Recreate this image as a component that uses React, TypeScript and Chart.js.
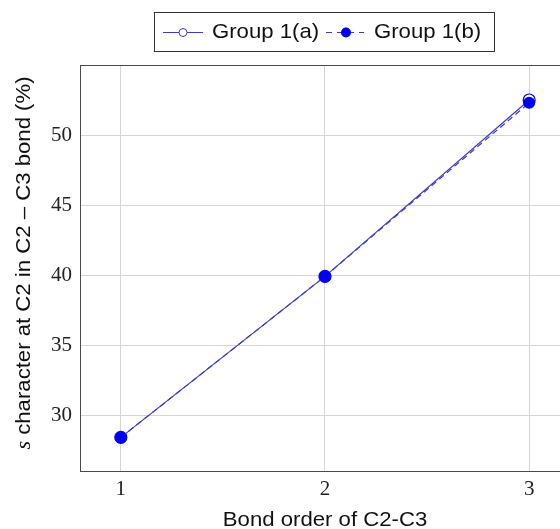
import React, { useEffect, useRef } from "react";
import { Chart, registerables } from "chart.js";

Chart.register(...registerables);

const bondOrders = [1, 2, 3];
const group1a = [28.4, 39.9, 52.5];
const group1b = [28.4, 39.9, 52.3];
const xTicks = [1, 2, 3];
const yTicks = [30, 35, 40, 45, 50];
const seriesLabels = ["Group 1(a)", "Group 1(b)"];
const xTitle = "Bond order of C2-C3";
const yTitleItalic = "s";
const yTitleRest = " character at C2 in C2 \u2013 C3 bond (%)";

const LINE = "#3b3bc4";
const MARK = "#0000ee";
const SANS = "Arial, 'Liberation Sans', Helvetica, sans-serif";
const SERIF = "'Liberation Serif', 'DejaVu Serif', serif";
const FS = 21;
const SX = 1.055;

function stretchedText(ctx: any, text: string, x: number, y: number, align: string) {
  const w = ctx.measureText(text).width * SX;
  let left = x;
  if (align === "center") left = x - w / 2;
  ctx.save();
  ctx.translate(left, y);
  ctx.scale(SX, 1);
  ctx.textAlign = "left";
  ctx.fillText(text, 0, 0);
  ctx.restore();
}

const framePlugin = {
  id: "frame",
  afterDraw(chart: any) {
    const { ctx, chartArea } = chart;
    ctx.save();
    ctx.strokeStyle = "#4a4a4a";
    ctx.lineWidth = 1;
    ctx.strokeRect(
      Math.round(chartArea.left) + 0.5,
      Math.round(chartArea.top) + 0.5,
      Math.round(chartArea.right - chartArea.left),
      Math.round(chartArea.bottom - chartArea.top)
    );

    // x-axis title
    ctx.fillStyle = "#111";
    ctx.textBaseline = "middle";
    ctx.font = `${FS}px ${SANS}`;
    stretchedText(ctx, xTitle, 325, 520, "center");

    // y-axis title
    ctx.save();
    ctx.translate(24, 263);
    ctx.rotate(-Math.PI / 2);
    ctx.scale(SX, 1);
    ctx.fillStyle = "#111";
    ctx.textBaseline = "middle";
    ctx.font = `italic ${FS}px ${SERIF}`;
    const w1 = ctx.measureText(yTitleItalic).width;
    ctx.font = `${FS}px ${SANS}`;
    const w2 = ctx.measureText(yTitleRest).width;
    const x0 = -(w1 + w2) / 2;
    ctx.textAlign = "left";
    ctx.font = `italic ${FS}px ${SERIF}`;
    ctx.fillText(yTitleItalic, x0, 0);
    ctx.font = `${FS}px ${SANS}`;
    ctx.fillText(yTitleRest, x0 + w1, 0);
    ctx.restore();
    ctx.restore();

    // legend
    ctx.save();
    ctx.strokeStyle = "#333";
    ctx.lineWidth = 1;
    ctx.fillStyle = "#fff";
    ctx.fillRect(154.5, 12.5, 340, 39);
    ctx.strokeRect(154.5, 12.5, 340, 39);
    const cy = 32;
    // entry 1
    ctx.strokeStyle = LINE;
    ctx.beginPath();
    ctx.moveTo(163, cy + 0.5);
    ctx.lineTo(203, cy + 0.5);
    ctx.stroke();
    ctx.beginPath();
    ctx.arc(183, cy + 0.5, 4, 0, Math.PI * 2);
    ctx.fillStyle = "#fff";
    ctx.fill();
    ctx.stroke();
    ctx.fillStyle = "#111";
    ctx.font = `${FS}px ${SANS}`;
    ctx.textBaseline = "middle";
    stretchedText(ctx, seriesLabels[0], 212, cy, "left");
    // entry 2
    ctx.strokeStyle = LINE;
    ctx.setLineDash([6, 5]);
    ctx.beginPath();
    ctx.moveTo(326, cy + 0.5);
    ctx.lineTo(364, cy + 0.5);
    ctx.stroke();
    ctx.setLineDash([]);
    ctx.beginPath();
    ctx.arc(346, cy + 0.5, 5, 0, Math.PI * 2);
    ctx.fillStyle = MARK;
    ctx.fill();
    ctx.fillStyle = "#111";
    stretchedText(ctx, seriesLabels[1], 374, cy, "left");
    ctx.restore();
  },
};

export default function App() {
  const ref = useRef<HTMLCanvasElement | null>(null);
  useEffect(() => {
    if (!ref.current) return;
    const chart = new Chart(ref.current, {
      type: "line",
      data: {
        datasets: [
          {
            label: seriesLabels[0],
            data: bondOrders.map((x, i) => ({ x, y: group1a[i] })),
            borderColor: LINE,
            borderWidth: 1.2,
            pointStyle: "circle",
            pointRadius: 6,
            pointBorderWidth: 1.2,
            pointBorderColor: MARK,
            pointBackgroundColor: "#ffffff",
            order: 2,
          },
          {
            label: seriesLabels[1],
            data: bondOrders.map((x, i) => ({ x, y: group1b[i] })),
            borderColor: LINE,
            borderWidth: 1.2,
            borderDash: [6, 4],
            pointStyle: "circle",
            pointRadius: 6,
            pointBorderWidth: 0,
            pointBorderColor: MARK,
            pointBackgroundColor: MARK,
            order: 1,
          },
        ],
      },
      options: {
        animation: false,
        responsive: false,
        devicePixelRatio: 1,
        layout: { padding: { top: 65, right: 10, left: 0, bottom: 0 } },
        plugins: { legend: { display: false }, tooltip: { enabled: false } },
        scales: {
          x: {
            type: "linear",
            min: 0.8,
            max: 3.2,
            afterBuildTicks: (s: any) => {
              s.ticks = xTicks.map((v) => ({ value: v }));
            },
            afterFit: (s: any) => {
              s.height = 58;
            },
            grid: { color: "#d4d4d4", drawTicks: false },
            border: { display: false },
            ticks: {
              padding: 6,
              color: "#222",
              font: { family: SERIF, size: 21 },
              callback: (v: any) => String(v),
            },
          },
          y: {
            type: "linear",
            min: 26,
            max: 55,
            afterBuildTicks: (s: any) => {
              s.ticks = yTicks.map((v) => ({ value: v }));
            },
            afterFit: (s: any) => {
              s.width = 80;
            },
            grid: { color: "#d4d4d4", drawTicks: false },
            border: { display: false },
            ticks: {
              padding: 8,
              color: "#222",
              font: { family: SERIF, size: 21 },
              callback: (v: any) => String(v),
            },
          },
        },
      },
      plugins: [framePlugin],
    });
    return () => chart.destroy();
  }, []);
  return (
    <div style={{ position: "fixed", left: 0, top: 0, width: 560, height: 529, overflow: "hidden", background: "#fff" }}>
      <canvas ref={ref} width={580} height={529} style={{ display: "block" }} />
    </div>
  );
}
